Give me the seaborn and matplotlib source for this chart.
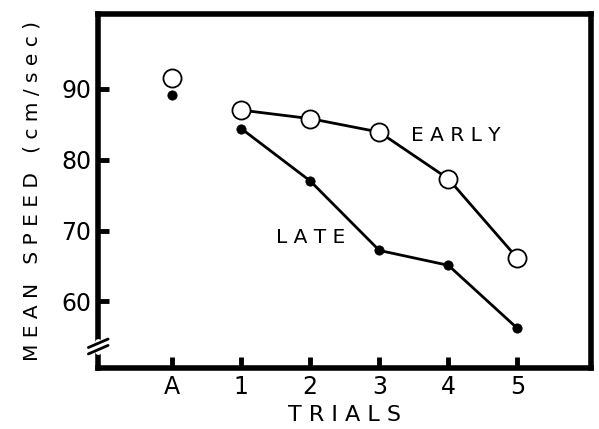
import numpy as np
import pandas as pd
import matplotlib
matplotlib.use("Agg")
import matplotlib.pyplot as plt
import seaborn as sns

# Data
trials = ["A", "1", "2", "3", "4", "5"]
early = [91.5, 87.0, 85.8, 83.9, 77.3, 66.1]
late = [89.2, 84.4, 77.0, 67.2, 65.1, 56.2]

df = pd.DataFrame({"pos": np.arange(len(trials)), "trial": trials,
                   "early": early, "late": late})
runs = df[df["trial"] != "A"]

sns.set_style("ticks", {"xtick.direction": "in", "ytick.direction": "in"})
plt.rcParams["font.family"] = ["DejaVu Sans"]
plt.rcParams["text.color"] = "black"
plt.rcParams["axes.labelcolor"] = "black"
plt.rcParams["xtick.color"] = "black"
plt.rcParams["ytick.color"] = "black"
plt.rcParams["xtick.major.size"] = 8
plt.rcParams["ytick.major.size"] = 8
plt.rcParams["xtick.major.width"] = 3.5
plt.rcParams["ytick.major.width"] = 3.5

fig = plt.figure(figsize=(5.99, 4.29), dpi=100)
ax = fig.add_axes([0.164, 0.142, 0.822, 0.826])

# connecting lines (trials 1-5 only)
sns.lineplot(data=runs, x="pos", y="early", color="black", lw=2, ax=ax)
sns.lineplot(data=runs, x="pos", y="late", color="black", lw=2, ax=ax)

# markers
sns.scatterplot(data=df, x="pos", y="late", color="black", s=45,
                edgecolor="black", zorder=3, ax=ax)
sns.scatterplot(data=df, x="pos", y="early", color="white", s=170,
                edgecolor="black", linewidth=1.3, zorder=4, ax=ax)

ax.text(4.1, 83.4, "E A R L Y", fontsize=14.5, ha="center", va="center")
ax.text(2.0, 69.0, "L A T E", fontsize=14.5, ha="center", va="center")

ax.set_xlim(-1.07, 6.06)
ax.set_ylim(50.6, 100.6)
ax.set_xticks(df["pos"])
ax.set_xticklabels(trials)
ax.set_yticks([60, 70, 80, 90])
ax.tick_params(axis="both", direction="in", length=8, width=3.5,
               labelsize=17, bottom=True, left=True, top=False, right=False)
ax.tick_params(axis="y", pad=5)
ax.tick_params(axis="x", pad=5)

for sp in ax.spines.values():
    sp.set_visible(True)
    sp.set_linewidth(4)
    sp.set_color("black")

ax.set_xlabel("T R I A L S", fontsize=16, labelpad=4)
ax.set_ylabel("M E A N   S P E E D   ( c m / s e c )", fontsize=14.5,
              labelpad=14)

# axis break marks on the left spine
ax.plot([0, 0], [0.048, 0.075], transform=ax.transAxes, color="white",
        lw=5, clip_on=False, zorder=4.5)
for dy in (0.052, 0.07):
    ax.plot([-0.02, 0.02], [dy - 0.012, dy + 0.012], transform=ax.transAxes,
            color="black", lw=2, clip_on=False, zorder=5)

fig.savefig("out.png", dpi=100)
